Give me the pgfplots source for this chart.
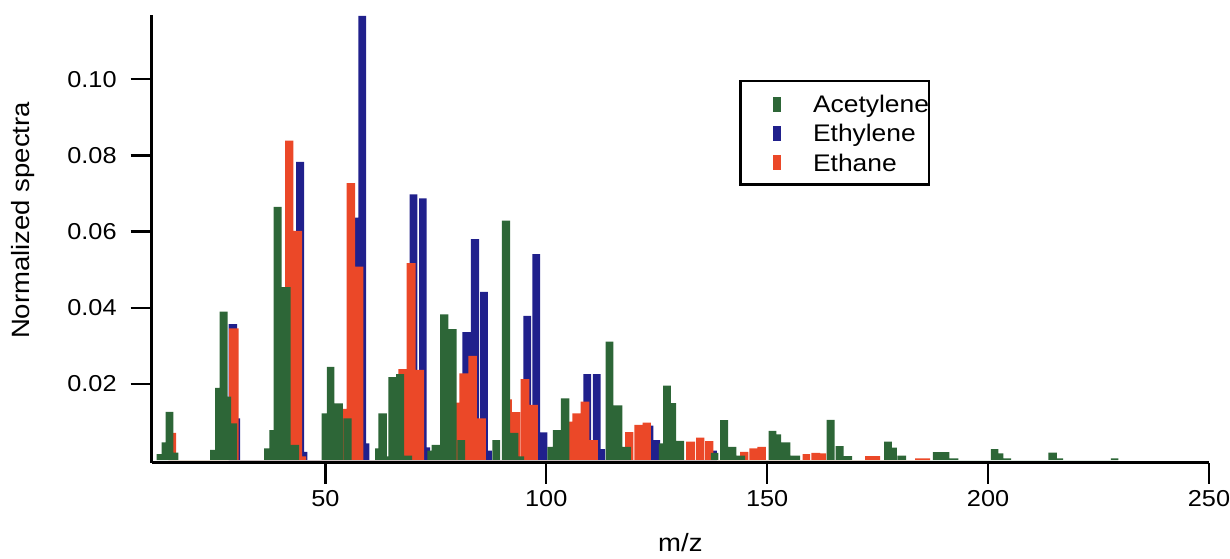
\documentclass[border=0pt]{standalone}
\usepackage{fontspec}
\setmainfont{Liberation Sans}[FakeStretch=1.1]
\usepackage{pgfplots}
\pgfplotsset{compat=1.18}
\definecolor{acgreen}{RGB}{45,102,55}
\definecolor{etblue}{RGB}{32,32,140}
\definecolor{ethred}{RGB}{235,72,40}
\pgfplotsset{legbar/.style={legend image code/.code={\fill[#1, draw=none] (0pt,-4.1pt) rectangle (3.85pt,3.4pt); \path[draw=none, fill=none] (-16.2pt,0pt) -- (20.05pt,0pt);}}}
\begin{document}
\begin{tikzpicture}
\path[use as bounding box] (-75.85pt,-47.75pt) rectangle (539.15pt,231.25pt);
\begin{axis}[
  at={(0,0)}, anchor=south west,
  scale only axis, width=528.65pt, height=223.75pt,
  xmin=10.7, xmax=250, ymin=-0.0006, ymax=0.11685,
  axis lines=left,
  axis line style={line width=1.2pt, -},
  major tick style={line width=1.2pt, black},
  tick align=outside, major tick length=10.5pt,
  xtick={50,100,150,200,250}, xticklabels={50,100,150,200,250},
  ytick={0.02,0.04,0.06,0.08,0.10}, yticklabels={0.02,0.04,0.06,0.08,0.10},
  tick label style={font=\fontsize{11.5}{13}\selectfont},
  yticklabel style={xshift=-3.5pt},
  xlabel={m/z}, ylabel={Normalized spectra},
  label style={font=\fontsize{12.5}{14}\selectfont},
  xlabel style={at={(axis description cs:0.5,-0.1978)}, anchor=base},
  ylabel style={at={(axis description cs:-0.1214,0.5408)}, anchor=center},
  legend style={at={(0.5558,0.8547)}, anchor=north west, draw=black, line width=1.2pt,
    inner xsep=0pt, inner ysep=6.3pt, row sep=4.95pt, font=\fontsize{12}{14}\selectfont,
    nodes={inner sep=0pt, text height=9.3pt, text depth=0.4pt}, cells={anchor=west}},
  legend cell align=left,
]
% Ethylene (drawn first, behind)
\addplot[forget plot, const plot, fill=etblue, draw=none] coordinates {
(28.09,0.0357) (30.01,0.011) (30.69,0)
(43.37,0.0783) (45.18,0.0022) (45.92,0)
(55.59,0.0637) (57.47,0.1166) (59.21,0.0044) (59.96,0)
(67.13,0.0197) (69.06,0.0698) (70.85,0) (71.20,0.0687) (72.95,0.0034) (73.70,0)
(81.01,0.0336) (82.91,0.058) (84.79,0) (85.02,0.0442) (86.76,0.0025) (87.67,0)
(94.82,0.0379) (96.56,0) (96.86,0.0541) (98.60,0.0073) (100.25,0)
(108.40,0.0226) (110.14,0) (110.53,0.0226) (112.29,0.0029) (113.31,0)
(122.37,0.0091) (124.25,0.0053) (125.76,0)
(137.47,0.0025) (138.60,0)
} \closedcycle;
% Ethane
\addplot[forget plot, const plot, fill=ethred, draw=none] coordinates {
(14.46,0.0072) (16.20,0)
(28.20,0.0346) (30.35,0)
(40.87,0.0839) (42.75,0.0602) (44.72,0.001) (45.63,0)
(53.10,0.0135) (54.84,0.0727) (56.72,0.0508) (58.60,0)
(66.52,0.0239) (68.42,0.0517) (70.46,0.0237) (72.34,0)
(78.45,0.0151) (80.33,0.0228) (82.37,0.0274) (84.27,0.011) (86.31,0)
(90.00,0.016) (92.19,0.0126) (94.07,0) (94.18,0.0213) (96.18,0.0145) (98.08,0)
(104.03,0.0101) (105.91,0.0123) (107.77,0.0154) (109.76,0.0053) (111.66,0)
(117.84,0.0074) (119.72,0) (119.95,0.0093) (121.80,0.0099) (123.68,0)
(131.65,0.0049) (133.69,0) (133.91,0.0059) (135.79,0) (135.95,0.005) (137.83,0)
(143.87,0.0022) (145.75,0) (145.98,0.0031) (147.79,0.0035) (149.69,0)
(158.02,0.0016) (159.72,0) (160.01,0.0019) (161.98,0.0018) (163.34,0)
(172.17,0.0011) (175.56,0)
(183.49,0.0005) (186.88,0)
} \closedcycle;
% Acetylene (front)
\addplot[forget plot, const plot, fill=acgreen, draw=none] coordinates {
(11.83,0.0016) (12.96,0.0047) (13.87,0.0127) (15.59,0.002) (16.72,0)
(23.90,0.0027) (25.03,0.019) (26.05,0.039) (27.86,0.0167) (28.65,0.0097) (30.01,0)
(36.12,0.0031) (37.32,0.0079) (38.27,0.0665) (40.13,0.0454) (42.12,0.004) (44.04,0)
(49.18,0.0123) (50.32,0.0245) (52.04,0.0149) (53.94,0) (54.07,0.011) (55.97,0)
(61.25,0.0031) (62.00,0.0123) (63.90,0.001) (64.26,0.0218) (66.00,0.0226) (67.81,0.0012) (69.62,0)
(73.09,0.0025) (74.08,0.004) (75.96,0.0383) (77.84,0.0344) (79.74,0) (79.88,0.0053) (81.62,0)
(87.80,0.0053) (89.55,0) (89.93,0.0629) (91.81,0.0072) (93.69,0.001) (95.0,0)
(100.25,0.0035) (101.47,0.0079) (103.29,0.0162) (105.23,0)
(113.43,0.0311) (115.19,0.0144) (117.23,0.0035) (119.13,0)
(125.49,0.0044) (126.44,0.0196) (128.19,0.015) (129.39,0.0051) (131.20,0)
(137.24,0.0019) (138.96,0) (139.35,0.0105) (141.16,0.0035) (143.04,0.0012) (145.01,0)
(150.33,0.0077) (152.09,0.0068) (153.16,0.0047) (155.26,0.0012) (157.46,0)
(163.46,0.0106) (165.27,0) (165.49,0.0037) (167.30,0.0011) (169.23,0)
(176.47,0.0049) (178.21,0.0033) (179.35,0) (179.49,0.0012) (181.45,0)
(187.50,0.0021) (189.15,0.0021) (191.25,0.0005) (193.29,0)
(200.62,0.0029) (202.34,0.0018) (203.48,0.0005) (205.22,0)
(213.66,0.002) (215.57,0.0005) (216.99,0)
(227.79,0.0005) (229.51,0)
} \closedcycle;
\addlegendimage{legbar=acgreen}\addlegendentry{Acetylene\hspace{3.5pt}}
\addlegendimage{legbar=etblue}\addlegendentry{Ethylene}
\addlegendimage{legbar=ethred}\addlegendentry{Ethane}
\end{axis}
\end{tikzpicture}
\end{document}
